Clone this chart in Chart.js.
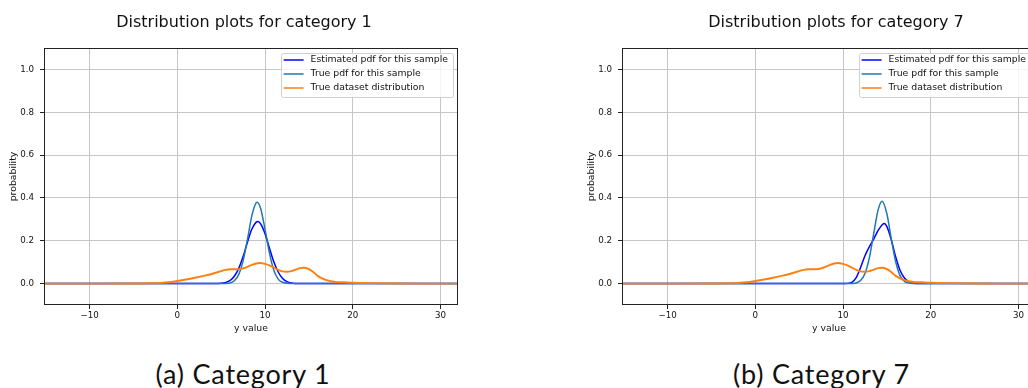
<!DOCTYPE html>
<html>
<head>
<meta charset="utf-8">
<script src="https://cdn.jsdelivr.net/npm/chart.js@4.4.1/dist/chart.umd.min.js"></script>
<style>
  html, body { margin: 0; padding: 0; background: #fff; }
  body { width: 1028px; height: 388px; overflow: hidden; position: relative; }
  .panel { position: absolute; top: 0; }
  .caption { position: absolute; top: 358px; font-family: Lato, "DejaVu Sans", sans-serif; font-size: 27px; letter-spacing: 0.8px; line-height: 32px; text-align: center; color: #111; }
</style>
</head>
<body>
<div class="panel" style="left:0px;"><canvas id="chart1" width="488" height="340"></canvas></div>
<div class="panel" style="left:578px;"><canvas id="chart7" width="516" height="340"></canvas></div>
<div class="caption" style="left:0px; width:486px;">(a) Category 1</div>
<div class="caption" style="left:578px; width:487px;">(b) Category 7</div>

<script>
// axis ticks
const xTicks = [-10, 0, 10, 20, 30];
const yTicks = [0, 0.2, 0.4, 0.6, 0.8, 1.0];

const seriesLabels = ['Estimated pdf for this sample', 'True pdf for this sample', 'True dataset distribution'];
const seriesColors = ['#0000ff', '#1f77b4', '#ff7f0e'];

// true dataset distribution (same in both panels)
const datasetX = [-16, -10, -5, -4, -3, -2, -1, 0, 1, 2, 3, 4, 5, 5.5, 6, 6.5, 7, 7.5, 8, 8.5, 9, 9.4, 10, 10.5, 11, 11.5, 12, 12.5, 13, 13.5, 14, 14.4, 15, 15.5, 16, 16.5, 17, 17.5, 18, 19, 20, 22, 25, 28, 33];
const datasetY = [0, 0, 0.0003, 0.0007, 0.0015, 0.003, 0.006, 0.012, 0.019, 0.027, 0.036, 0.046, 0.058, 0.064, 0.067, 0.067, 0.067, 0.071, 0.078, 0.087, 0.094, 0.096, 0.092, 0.085, 0.075, 0.064, 0.057, 0.055, 0.058, 0.065, 0.072, 0.074, 0.068, 0.054, 0.036, 0.024, 0.016, 0.011, 0.008, 0.006, 0.004, 0.002, 0.0005, 0, 0];

// category 1
const cat1EstX = [-16, 3, 4, 5, 6, 6.5, 7, 7.5, 8, 8.5, 9, 9.2, 9.5, 10, 10.5, 11, 11.5, 12, 12.5, 13, 14, 15, 33];
const cat1EstY = [0, 0, 0.0002, 0.0015, 0.014, 0.034, 0.071, 0.126, 0.194, 0.255, 0.287, 0.29, 0.279, 0.233, 0.166, 0.102, 0.054, 0.024, 0.009, 0.003, 0.0002, 0, 0];
const cat1TrueX = [-16, 5, 6, 6.5, 7, 7.5, 8, 8.5, 9, 9.1, 9.5, 10, 10.5, 11, 11.5, 12, 13, 14, 33];
const cat1TrueY = [0, 0, 0.003, 0.013, 0.042, 0.106, 0.207, 0.317, 0.378, 0.38, 0.351, 0.253, 0.143, 0.062, 0.021, 0.006, 0.0002, 0, 0];

// category 7
const cat7EstX = [-16, 10, 10.5, 11, 11.5, 12, 12.5, 13, 13.5, 14, 14.5, 14.7, 15, 15.5, 16, 16.5, 17, 17.5, 18, 19, 33];
const cat7EstY = [0, 0, 0.001, 0.006, 0.028, 0.075, 0.13, 0.172, 0.208, 0.248, 0.276, 0.28, 0.266, 0.205, 0.125, 0.062, 0.026, 0.009, 0.002, 0, 0];
const cat7TrueX = [-16, 10.5, 11, 11.5, 12, 12.5, 13, 13.5, 14, 14.45, 15, 15.5, 16, 16.5, 17, 17.5, 18, 19, 33];
const cat7TrueY = [0, 0, 0.0005, 0.003, 0.014, 0.047, 0.12, 0.234, 0.344, 0.385, 0.326, 0.209, 0.102, 0.037, 0.01, 0.003, 0.0005, 0, 0];

const lineWidths = [1.5, 1.5, 1.9];

const pts = (xs, ys) => xs.map((x, i) => ({x: x, y: ys[i]}));

// frame round the plot + legend box inside it, matplotlib style
const framePlugin = {
  id: 'frame',
  afterDraw(chart) {
    const ctx = chart.ctx;
    const a = chart.chartArea;
    ctx.save();
    ctx.strokeStyle = '#222';
    ctx.lineWidth = 1;
    ctx.strokeRect(Math.round(a.left) + 0.5, Math.round(a.top) + 0.5,
      Math.round(a.right - a.left) - 1, Math.round(a.bottom - a.top) - 1);

    // legend
    ctx.font = '9.3px "DejaVu Sans"';
    const sets = chart.data.datasets;
    let tw = 0;
    sets.forEach(d => { tw = Math.max(tw, ctx.measureText(d.label).width); });
    const w = 3 + 20 + 7 + tw + 5;
    const h = 44;
    const x0 = a.right - 5 - w;
    const y0 = a.top + 5;
    ctx.beginPath();
    ctx.roundRect(Math.round(x0) + 0.5, Math.round(y0) + 0.5, Math.round(w), h, 2);
    ctx.fillStyle = 'rgba(255,255,255,0.8)';
    ctx.fill();
    ctx.strokeStyle = '#d0d0d0';
    ctx.stroke();
    sets.forEach((d, i) => {
      const cy = y0 + 7 + i * 14;
      ctx.beginPath();
      ctx.strokeStyle = d.borderColor;
      ctx.lineWidth = 1.5;
      ctx.moveTo(x0 + 3, cy);
      ctx.lineTo(x0 + 23, cy);
      ctx.stroke();
      ctx.fillStyle = '#111';
      ctx.textBaseline = 'middle';
      ctx.textAlign = 'left';
      ctx.fillText(d.label, x0 + 30, cy);
    });
    ctx.restore();
  }
};

function makeChart(id, title, estX, estY, trueX, trueY, rightGap) {
  const ys = [estY, trueY, datasetY];
  const xs = [estX, trueX, datasetX];
  new Chart(document.getElementById(id), {
    type: 'line',
    data: {
      datasets: seriesLabels.map((label, i) => ({
        label: label,
        data: pts(xs[i], ys[i]),
        borderColor: seriesColors[i],
        backgroundColor: seriesColors[i],
        borderWidth: lineWidths[i],
        pointRadius: 0,
        cubicInterpolationMode: 'monotone',
        fill: false,
        // lowest order is drawn last, so the orange curve ends up on top
        order: 3 - i
      }))
    },
    options: {
      responsive: false,
      animation: false,
      layout: { padding: 0 },
      plugins: {
        legend: { display: false },
        tooltip: { enabled: false },
        title: {
          display: true,
          text: title,
          color: '#111',
          font: { family: 'DejaVu Sans', size: 16, weight: 'normal' },
          padding: { top: 13, bottom: 15.8 }
        }
      },
      scales: {
        x: {
          type: 'linear',
          min: -15.2,
          max: 32,
          afterBuildTicks: s => { s.ticks = xTicks.map(v => ({value: v})); },
          afterFit: s => { s.height = 35; },
          border: { display: false },
          grid: { color: '#c6c6c6', lineWidth: 1, tickColor: '#222', tickLength: 4 },
          ticks: {
            autoSkip: false, maxRotation: 0, padding: 2, color: '#111',
            font: { family: 'DejaVu Sans', size: 8.7 },
            callback: v => v < 0 ? '\u2212' + Math.abs(v) : String(v)
          },
          title: {
            display: true, text: 'y value', color: '#111',
            font: { family: 'DejaVu Sans', size: 9.3 },
            padding: { top: 0, bottom: 5.5 }
          }
        },
        y: {
          min: -0.1,
          max: 1.1,
          afterBuildTicks: s => { s.ticks = yTicks.map(v => ({value: v})); },
          afterFit: s => { s.width = 44; },
          border: { display: false },
          grid: { color: '#c6c6c6', lineWidth: 1, tickColor: '#222', tickLength: 4 },
          ticks: {
            autoSkip: false, padding: 6, color: '#111',
            font: { family: 'DejaVu Sans', size: 8.7 },
            callback: v => Number(v).toFixed(1)
          },
          title: {
            display: true, text: 'probability', color: '#111',
            font: { family: 'DejaVu Sans', size: 9.3 },
            padding: { top: 8, bottom: 0 }
          }
        },
        // empty right-hand box: keeps white space right of the plot without shifting the title
        gap: {
          type: 'linear',
          position: 'right',
          display: true,
          afterFit: s => { s.width = rightGap; },
          border: { display: false },
          grid: { display: false, drawOnChartArea: false },
          ticks: { display: false }
        }
      }
    },
    plugins: [framePlugin]
  });
}

makeChart('chart1', 'Distribution plots for category 1', cat1EstX, cat1EstY, cat1TrueX, cat1TrueY, 30);
makeChart('chart7', 'Distribution plots for category 7', cat7EstX, cat7EstY, cat7TrueX, cat7TrueY, 58);
</script>
</body>
</html>
